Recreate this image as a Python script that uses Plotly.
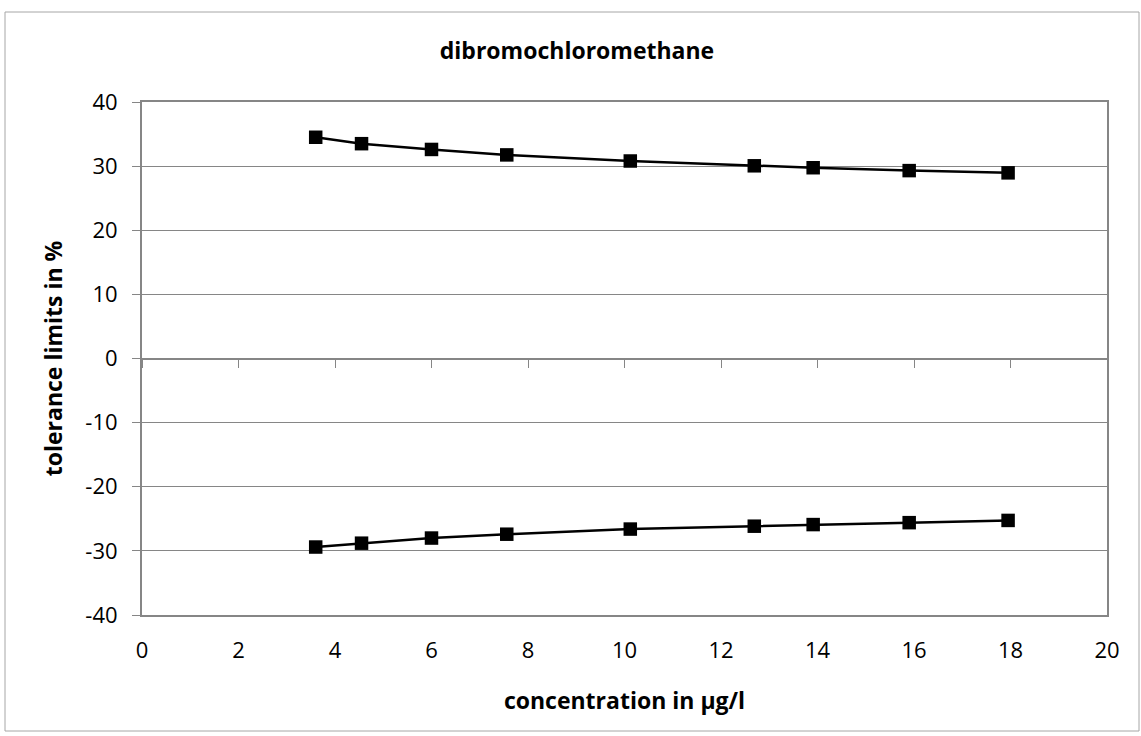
import plotly.graph_objects as go

conc = [3.6, 4.55, 6.0, 7.56, 10.12, 12.69, 13.91, 15.9, 17.95]
upper = [34.5, 33.5, 32.6, 31.75, 30.8, 30.05, 29.75, 29.3, 28.95]
lower = [-29.4, -28.8, -28.0, -27.4, -26.6, -26.15, -25.9, -25.6, -25.25]

x_ticks = list(range(0, 21, 2))
y_ticks = list(range(-40, 41, 10))
y_tick_text = [str(v) for v in y_ticks]

title_text = "dibromochloromethane"
x_title = "concentration in µg/l"
y_title = "tolerance limits in %"

FONT = "Open Sans"
GRID = "#868686"

fig = go.Figure()
for ys in (upper, lower):
    fig.add_trace(go.Scatter(
        x=conc, y=ys, mode="lines+markers",
        line=dict(color="black", width=2.5),
        marker=dict(symbol="square", size=13.5, color="black"),
        showlegend=False, hoverinfo="skip"))

# invisible trace to activate the x2 axis (ticks on the zero line)
fig.add_trace(go.Scatter(x=[conc[0]], y=[upper[0]], xaxis="x2", mode="markers",
                         marker=dict(opacity=0), showlegend=False, hoverinfo="skip"))

fig.update_layout(
    width=1141, height=736,
    margin=dict(l=142, r=34, t=102, b=121, autoexpand=False),
    paper_bgcolor="white", plot_bgcolor="white",
    font=dict(family=FONT, color="black"),
    title=dict(text=f"<b>{title_text}</b>", x=577 / 1141, xref="container",
               y=1 - 51 / 736, yref="container", xanchor="center", yanchor="middle",
               font=dict(size=23, family=FONT)),
    xaxis=dict(range=[0, 20], tickvals=x_ticks, showgrid=False, zeroline=False, automargin=False,
               showline=True, linecolor=GRID, linewidth=2, mirror=True,
               ticks="", tickfont=dict(size=22, family=FONT), ticklabelstandoff=15,
               title=dict(text=f"<b>{x_title}</b>", font=dict(size=23, family=FONT), standoff=29)),
    xaxis2=dict(range=[0, 20], overlaying="x", anchor="free", position=0.5, automargin=False,
                tickvals=x_ticks, showticklabels=False, showgrid=False, zeroline=False,
                showline=True, linecolor=GRID, linewidth=1, ticks="outside", ticklen=8,
                tickcolor=GRID, tickwidth=1, side="bottom"),
    yaxis=dict(range=[-40, 40], tickvals=y_ticks, ticktext=y_tick_text, showgrid=True, gridcolor=GRID,
               gridwidth=1, zeroline=False, showline=True, linecolor=GRID, linewidth=2, mirror=True,
               automargin=False, ticks="outside", ticklen=8, tickcolor=GRID, tickwidth=1,
               tickfont=dict(size=22, family=FONT), ticklabelstandoff=10,
               title=dict(text=f"<b>{y_title}</b>", font=dict(size=23, family=FONT), standoff=16)),
)

fig.add_shape(type="rect", xref="paper", yref="paper",
              x0=(5 - 142) / 965, x1=(1139 - 142) / 965,
              y0=-(731 - 615) / 513, y1=1 + (102 - 12) / 513,
              line=dict(color="#a6a6a6", width=1), fillcolor="rgba(0,0,0,0)", layer="below")

fig.write_html("out.html", config={"displayModeBar": False},
               post_script="document.body.style.margin='0';")
